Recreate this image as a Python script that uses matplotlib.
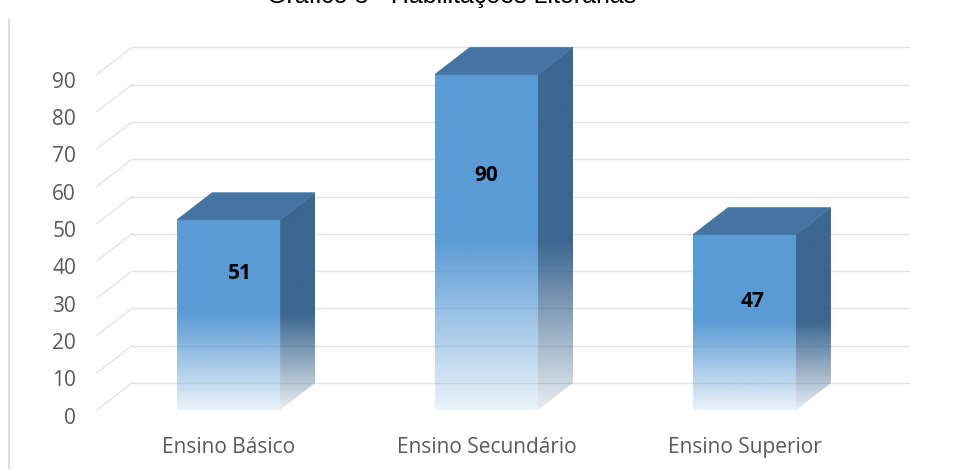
import numpy as np
import matplotlib
matplotlib.use("Agg")
import matplotlib.pyplot as plt
from matplotlib import transforms
from matplotlib.patches import Polygon
from matplotlib.lines import Line2D

# ---- data ----
categories = ["Ensino Básico", "Ensino Secundário", "Ensino Superior"]
values = [51, 90, 47]
y_ticks = [0, 10, 20, 30, 40, 50, 60, 70, 80, 90]
title = "Gráfico 3 - Habilitações Literárias"

# ---- layout / style ----
label_frac = [0.72, 0.70, 0.62]   # vertical spot of value labels inside the bars
label_dx_px = [11, 0, 8]          # perspective shift of value labels
FRONT = np.array([0x5B, 0x9B, 0xD5]) / 255
SIDE = np.array([0x3C, 0x67, 0x90]) / 255
TOP = np.array([0x45, 0x73, 0xA2]) / 255
GRID = "#E3E3E3"
TXT = "#595959"
FONT = "Open Sans"

W, H, DPI = 955, 469, 100
fig = plt.figure(figsize=(W / DPI, H / DPI), dpi=DPI)
ax_l, ax_b, ax_w, ax_h = 97, 59, 779, 373
ax = fig.add_axes([ax_l / W, ax_b / H, ax_w / W, ax_h / H])
XL, XR = -0.51, 2.51
YB, YT = 0, 100
ax.set_xlim(XL, XR)
ax.set_ylim(YB, YT)
ax.axis("off")

ppx = ax_w / (XR - XL)     # pixels per x unit
ppy = ax_h / (YT - YB)     # pixels per y unit
DX = 35 / ppx
DY = 27 / ppy
XBACK_END = XL + (909 - ax_l) / ppx
BAR_W = 103 / ppx

# ---- gridlines (side wall diagonals + back wall horizontals) ----
for v in y_ticks:
    ax.plot([XL, XL + DX], [v, v + DY], color=GRID, lw=1.0, zorder=0, clip_on=False)
    ax.plot([XL + DX, XBACK_END], [v + DY, v + DY], color=GRID, lw=1.0, zorder=0, clip_on=False)

# ---- y tick labels ----
tick_tr = transforms.offset_copy(ax.transData, fig=fig, x=-21, y=-8, units="dots")
for v in y_ticks:
    ax.text(XL, v, str(v), transform=tick_tr, ha="right", va="center",
            fontsize=15, color=TXT, family=FONT)

# ---- category labels ----
cat_tr = transforms.offset_copy(ax.transData, fig=fig, x=0, y=-37, units="dots")
for i, c in enumerate(categories):
    ax.text(i, 0, c, transform=cat_tr, ha="center", va="center",
            fontsize=15, color=TXT, family=FONT)


def grad_image(color, h, ytop, n=300):
    ys = np.linspace(ytop, 0, n)
    a = np.clip(0.12 + 0.88 * ys / (0.5 * h), 0.12, 1.0)
    img = np.zeros((n, 1, 4))
    img[:, 0, :3] = color
    img[:, 0, 3] = a
    return img


# ---- bars ----
for i, v in enumerate(values):
    x0, x1 = i - BAR_W / 2, i + BAR_W / 2
    # front face
    ax.imshow(grad_image(FRONT, v, v), extent=[x0, x1, 0, v], aspect="auto",
              interpolation="bilinear", zorder=3)
    # side face
    side_poly = Polygon([(x1, 0), (x1 + DX, DY), (x1 + DX, v + DY), (x1, v)],
                        closed=True, facecolor="none", edgecolor="none", zorder=3)
    ax.add_patch(side_poly)
    im = ax.imshow(grad_image(SIDE, v, v + DY), extent=[x1, x1 + DX, 0, v + DY],
                   aspect="auto", interpolation="bilinear", zorder=3)
    im.set_clip_path(side_poly)
    # top face
    ax.add_patch(Polygon([(x0, v), (x1, v), (x1 + DX, v + DY), (x0 + DX, v + DY)],
                         closed=True, facecolor=TOP, edgecolor=TOP, lw=0.5, zorder=4))
    # value label
    lab_tr = transforms.offset_copy(ax.transData, fig=fig, x=label_dx_px[i], y=0, units="dots")
    ax.text(i, v * label_frac[i], str(v), transform=lab_tr, ha="center", va="center",
            fontsize=15, fontweight="bold", color="black", family=FONT, zorder=5)

ax.set_xlim(XL, XR)
ax.set_ylim(YB, YT)

# ---- frame line on the left and clipped title ----
fig.add_artist(Line2D([8.5 / W, 8.5 / W], [0, 1 - 20 / H], color="#D9D9D9", lw=1.2))
fig.text(452 / W, 1 - 3 / H, title, ha="center", va="baseline", fontsize=18,
         color="black", family="Liberation Sans")

fig.savefig("out.png", dpi=DPI)
